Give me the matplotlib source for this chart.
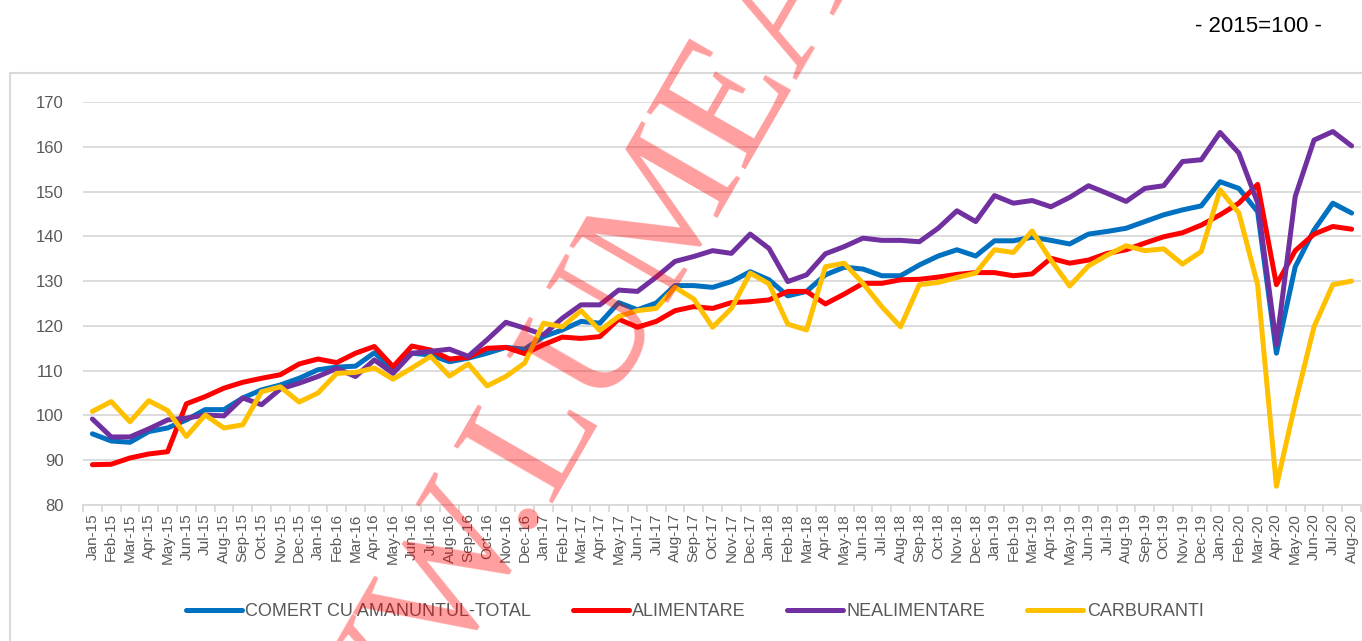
import numpy as np
import matplotlib.pyplot as plt
from matplotlib.patches import Rectangle

plt.rcParams['font.family'] = ['Liberation Sans', 'DejaVu Sans']

months = [f"{m}-{y}" for y in range(15, 21)
          for m in ["Jan", "Feb", "Mar", "Apr", "May", "Jun",
                    "Jul", "Aug", "Sep", "Oct", "Nov", "Dec"]][:68]

total = [95.9, 94.3, 94.0, 96.4, 97.2, 99.0, 101.3, 101.3, 103.9, 105.7, 106.8, 108.3,
         110.2, 110.8, 111.0, 114.0, 110.2, 113.9, 113.5, 112.0, 112.8, 113.9, 115.2, 114.8,
         117.6, 119.1, 121.0, 120.6, 125.2, 123.6, 125.1, 129.0, 129.0, 128.6, 129.9, 132.1,
         130.3, 126.7, 127.7, 131.4, 133.1, 132.7, 131.2, 131.2, 133.6, 135.6, 137.0, 135.6,
         139.0, 139.0, 139.8, 139.1, 138.3, 140.5, 141.1, 141.8, 143.3, 144.8, 145.9, 146.8,
         152.2, 150.7, 145.5, 113.9, 133.2, 141.4, 147.4, 145.2]

alimentare = [89.0, 89.1, 90.5, 91.4, 91.9, 102.6, 104.2, 106.1, 107.4, 108.3, 109.1, 111.5,
              112.6, 111.8, 113.9, 115.4, 110.9, 115.5, 114.6, 112.6, 113.0, 115.0, 115.2, 113.8,
              115.8, 117.5, 117.2, 117.6, 121.5, 119.7, 121.0, 123.4, 124.3, 123.9, 125.2, 125.4,
              125.8, 127.7, 127.7, 124.9, 127.1, 129.5, 129.5, 130.3, 130.4, 130.9, 131.5, 131.9,
              131.9, 131.2, 131.6, 135.1, 134.0, 134.7, 136.2, 137.0, 138.5, 139.9, 140.8, 142.5,
              144.8, 147.4, 151.6, 129.2, 136.8, 140.5, 142.2, 141.6]

nealimentare = [99.2, 95.2, 95.2, 97.0, 99.0, 99.4, 100.1, 99.9, 103.9, 102.4, 105.9, 107.2,
                108.7, 110.5, 108.7, 112.4, 109.4, 113.9, 114.3, 114.8, 113.2, 116.9, 120.8, 119.5,
                118.0, 121.7, 124.7, 124.7, 128.0, 127.7, 130.9, 134.4, 135.5, 136.8, 136.2, 140.5,
                137.3, 129.9, 131.4, 136.1, 137.7, 139.6, 139.1, 139.1, 138.8, 141.8, 145.7, 143.3,
                149.1, 147.4, 148.0, 146.6, 148.7, 151.3, 149.6, 147.8, 150.7, 151.3, 156.7, 157.1,
                163.2, 158.6, 147.5, 115.8, 148.9, 161.5, 163.4, 160.2]

carburanti = [100.9, 103.1, 98.6, 103.3, 101.1, 95.3, 100.1, 97.2, 97.9, 105.3, 106.4, 103.0,
              105.0, 109.4, 109.6, 110.6, 108.1, 110.6, 113.2, 108.8, 111.5, 106.6, 108.7, 111.7,
              120.6, 119.8, 123.4, 119.0, 122.1, 123.4, 123.9, 128.6, 126.0, 119.7, 123.9, 131.8,
              129.4, 120.4, 119.1, 133.2, 134.0, 129.5, 124.3, 119.8, 129.2, 129.7, 130.8, 131.8,
              137.0, 136.4, 141.2, 134.7, 128.9, 133.4, 135.8, 137.9, 136.8, 137.2, 133.8, 136.6,
              150.4, 145.2, 129.2, 84.2, 102.7, 119.8, 129.2, 130.0]

series = [("COMERT CU AMANUNTUL-TOTAL", total, "#0070C0"),
          ("ALIMENTARE", alimentare, "#FF0000"),
          ("NEALIMENTARE", nealimentare, "#7030A0"),
          ("CARBURANTI", carburanti, "#FFC000")]

W, H = 1362, 641
fig = plt.figure(figsize=(W / 100, H / 100), dpi=100)
ax = fig.add_axes([83 / W, 1 - 505 / H, (1361 - 83) / W, (505 - 102) / H])

x = np.arange(len(months))
for name, vals, col in series:
    ax.plot(x, vals, color=col, lw=3.6, label=name,
            solid_joinstyle='round', solid_capstyle='round')

ax.set_xlim(-0.5, len(months) - 0.5)
ax.set_ylim(80, 170)
ax.set_yticks(range(80, 171, 10))
ax.grid(axis='y', color='#d9d9d9', lw=1.3)
ax.set_axisbelow(True)
for s in ['top', 'left', 'right']:
    ax.spines[s].set_visible(False)
ax.spines['bottom'].set_color('#d9d9d9')
ax.spines['bottom'].set_linewidth(1.3)

ax.set_xticks(x)
ax.set_xticklabels(months, rotation=90)
ax.set_xticks(np.arange(len(months) + 1) - 0.5, minor=True)
ax.tick_params(axis='x', which='major', length=0, pad=6, labelsize=11, labelcolor='#595959')
ax.tick_params(axis='x', which='minor', length=5, color='#d9d9d9', width=1.3)
ax.tick_params(axis='y', length=0, pad=14, labelsize=12, labelcolor='#595959')

leg = fig.legend(loc='center', bbox_to_anchor=(0.51, 1 - 612 / H), ncol=4, frameon=False,
                 fontsize=13, handlelength=3.1, handletextpad=0.2, columnspacing=2.3)
for t in leg.get_texts():
    t.set_color('#595959')

fig.add_artist(Rectangle((10 / W, -0.01), 1.1, 1 - 73 / H + 0.01, transform=fig.transFigure,
                         fill=False, ec='#d9d9d9', lw=1.5))
fig.text(1322 / W, 1 - 27 / H, "- 2015=100 -", ha='right', va='center', fontsize=16)

# watermark
wx, wy = 548 / W, 1 - 503 / H
for txt, ha in [("WWW.", 'right'), ("LUMEA", 'left')]:
    fig.text(wx, wy, txt, ha=ha, va='baseline', rotation=60, rotation_mode='anchor',
             fontsize=125, family='Liberation Serif', color='red', alpha=0.38, zorder=10)

fig.savefig("out.png", dpi=100)
